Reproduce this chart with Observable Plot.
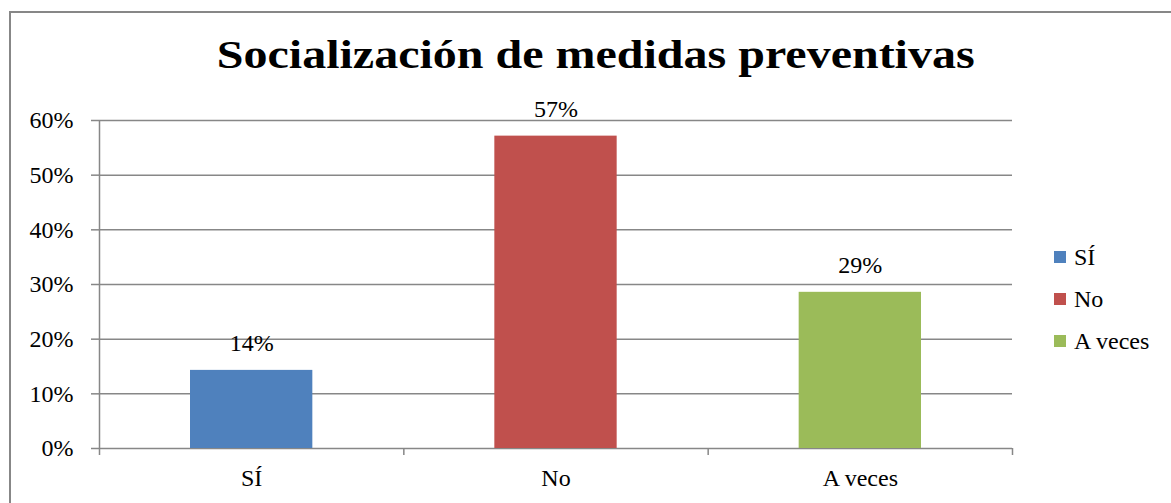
<!DOCTYPE html>
<html>
<head>
<meta charset="utf-8">
<script src="https://cdn.jsdelivr.net/npm/d3@7"></script>
<script src="https://cdn.jsdelivr.net/npm/@observablehq/plot@0.6"></script>
<style>
  html, body { margin: 0; padding: 0; background: #fff; }
  #wrap { position: relative; width: 1171px; height: 503px; overflow: hidden; font-family: "Liberation Serif", "Times New Roman", serif; }
  #border { position: absolute; left: 9px; top: 11px; width: 1300px; height: 700px; border-top: 2px solid #878787; border-left: 2px solid #878787; }
  #title { position: absolute; left: 0; width: 1192px; top: 35px; text-align: center; font-size: 40px; line-height: 40px; font-weight: bold; color: #000; }
  #title span { display: inline-block; transform: scaleX(1.2); transform-origin: center; }
  #chart { position: absolute; left: 0; top: 90px; }
  #legend { position: absolute; left: 1054px; top: 0; font-size: 24px; color: #000; }
  .item { position: absolute; left: 0; white-space: nowrap; height: 24px; line-height: 24px; }
  .sw { position: absolute; left: 0; top: 6px; width: 12px; height: 12px; }
  .lab { position: absolute; left: 20px; top: 0; }
</style>
</head>
<body>
<div id="wrap">
  <div id="border"></div>
  <div id="title"><span>Socialización de medidas preventivas</span></div>
  <div id="chart"></div>
  <div id="legend"></div>
</div>
<script>
const categories = ["SÍ", "No", "A veces"];
const values = [0.1429, 0.5714, 0.2857];
const labels = ["14%", "57%", "29%"];
const colors = ["#4F81BD", "#C0504D", "#9BBB59"];
const yTicks = [0, 0.1, 0.2, 0.3, 0.4, 0.5, 0.6];

const data = categories.map((c, i) => ({cat: c, idx: i, value: values[i], label: labels[i], color: colors[i]}));
const fmt = d3.format(".0%");
const grid = "#878787";

const plot = Plot.plot({
  width: 1171,
  height: 413,
  marginTop: 30,
  marginBottom: 55,
  marginLeft: 99,
  marginRight: 159,
  style: {fontFamily: "'Liberation Serif', 'Times New Roman', serif", fontSize: "24px", color: "#000", background: "transparent"},
  x: {type: "linear", domain: [0, categories.length], axis: null, label: null},
  y: {domain: [0, 0.6], axis: null, label: null},
  marks: [
    Plot.ruleY(yTicks, {stroke: grid, strokeWidth: 1.5}),
    Plot.rectY(data, {x1: d => d.idx, x2: d => d.idx + 1, y: "value", fill: "color", insetLeft: 91, insetRight: 91}),
    Plot.ruleX([0], {y1: 0, y2: 0.6, stroke: grid, strokeWidth: 1.5}),
    Plot.axisY({ticks: yTicks, tickFormat: fmt, tickSize: 8, tickPadding: 18, stroke: grid, strokeWidth: 1.5, fontSize: 24, fill: "#000", strokeOpacity: 1, label: null}),
    Plot.axisX({ticks: d3.range(categories.length + 1), tickFormat: () => "", tickSize: 7, stroke: grid, strokeWidth: 1.5, strokeOpacity: 1, label: null}),
    Plot.axisX({ticks: categories.map((c, i) => i + 0.5), tickFormat: (v) => categories[Math.floor(v)], tickSize: 0, tickPadding: 20, fontSize: 24, fill: "#000", label: null}),
    Plot.text(data, {x: d => d.idx + 0.5, y: "value", text: "label", dy: -27, fontSize: 24, fill: "#000", lineAnchor: "middle"})
  ]
});
document.getElementById("chart").appendChild(plot);

const legend = document.getElementById("legend");
const legendY = [245, 287, 329];
categories.forEach((c, i) => {
  const it = document.createElement("div");
  it.className = "item";
  it.style.top = legendY[i] + "px";
  it.innerHTML = `<div class="sw" style="background:${colors[i]}"></div><div class="lab">${c}</div>`;
  legend.appendChild(it);
});
</script>
</body>
</html>
